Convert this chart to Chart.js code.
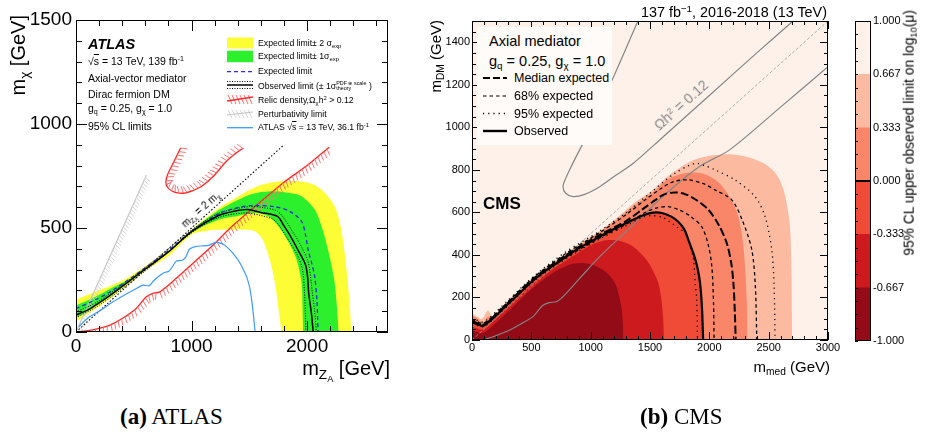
<!DOCTYPE html>
<html>
<head>
<meta charset="utf-8">
<title>Axial-vector mediator limits</title>
<script src="https://cdn.jsdelivr.net/npm/chart.js@4.4.1/dist/chart.umd.min.js"></script>
<style>
  html, body { margin: 0; padding: 0; background: #fff; }
  #page { position: relative; width: 928px; height: 437px; overflow: hidden; font-family: "Liberation Sans", Arial, Helvetica, sans-serif; }
  canvas { position: absolute; }
  .t { position: absolute; white-space: nowrap; line-height: 1; color: #000; }
  sub { font-size: 68%; vertical-align: -0.3em; line-height: 0; }
  sup { font-size: 68%; vertical-align: 0.55em; line-height: 0; }
  .rot { transform-origin: right top; transform: rotate(-90deg); }
  .stack { display: inline-block; font-size: 62%; line-height: 1.05; vertical-align: middle; }
  .cap { font-family: "Liberation Serif", "Times New Roman", serif; font-size: 23px; top: 405px; }
  .sq { text-decoration: overline; }
</style>
</head>
<body>
<div id="page">
  <canvas id="atlas" width="400" height="380" style="left:0;top:0"></canvas>
  <canvas id="cms" width="430" height="380" style="left:420px;top:0"></canvas>
  <canvas id="cbar" width="83" height="380" style="left:845px;top:0"></canvas>

  <!-- ATLAS panel text -->
  <div class="t rot" style="right:920px;top:15px;font-size:20px">m<sub>χ</sub> [GeV]</div>
  <div class="t" style="right:538px;top:358px;font-size:20px">m<sub>Z<sub>A</sub></sub> [GeV]</div>
  <div class="t" style="left:88px;top:37px;font-size:14.5px;font-weight:bold;font-style:italic">ATLAS</div>
  <div class="t" style="left:88px;top:56px;font-size:10.5px">√<span class="sq">s</span> = 13 TeV, 139 fb<sup>-1</sup></div>
  <div class="t" style="left:88px;top:73px;font-size:10.5px">Axial-vector mediator</div>
  <div class="t" style="left:88px;top:89px;font-size:10.5px">Dirac fermion DM</div>
  <div class="t" style="left:88px;top:103px;font-size:10.5px">g<sub>q</sub> = 0.25, g<sub>χ</sub> = 1.0</div>
  <div class="t" style="left:88px;top:121px;font-size:10.5px">95% CL limits</div>
  <div class="t" style="left:201px;top:210px;font-size:10px;transform:translate(-50%,-50%) rotate(-42deg)">m<sub>Z<sub>A</sub></sub> = 2 m<sub>χ</sub></div>

  <svg style="position:absolute;left:225px;top:35px" width="32" height="100">
    <rect x="2" y="2.5" width="26" height="11" fill="#fdfd35"/>
    <rect x="2" y="15.7" width="26" height="11.5" fill="#2cf02c"/>
    <line x1="2" y1="36.7" x2="28" y2="36.7" stroke="#2a2ae0" stroke-width="1.3" stroke-dasharray="4 3"/>
    <line x1="2" y1="46.5" x2="28" y2="46.5" stroke="#000" stroke-width="1" stroke-dasharray="1 1.5"/>
    <line x1="2" y1="50" x2="28" y2="50" stroke="#000" stroke-width="1.5"/>
    <line x1="2" y1="53.5" x2="28" y2="53.5" stroke="#000" stroke-width="1" stroke-dasharray="1 1.5"/>
    <g stroke="#ff7070" stroke-width="1">
      <line x1="3" y1="60" x2="7" y2="69"/><line x1="7" y1="60" x2="11" y2="69"/><line x1="11" y1="60" x2="15" y2="69"/>
      <line x1="15" y1="60" x2="19" y2="69"/><line x1="19" y1="60" x2="23" y2="69"/><line x1="23" y1="60" x2="27" y2="69"/>
    </g>
    <line x1="2" y1="66" x2="28" y2="62" stroke="#ff2a2a" stroke-width="1.3"/>
    <g stroke="#d6d6d6" stroke-width="1">
      <line x1="3" y1="75" x2="7" y2="83"/><line x1="7" y1="75" x2="11" y2="83"/><line x1="11" y1="75" x2="15" y2="83"/>
      <line x1="15" y1="75" x2="19" y2="83"/><line x1="19" y1="75" x2="23" y2="83"/><line x1="23" y1="75" x2="27" y2="83"/>
    </g>
    <line x1="2" y1="80" x2="28" y2="77" stroke="#c4c4c4" stroke-width="1.2"/>
    <line x1="2" y1="92.7" x2="28" y2="92.7" stroke="#3d9bff" stroke-width="1.3"/>
  </svg>
  <div class="t" style="left:258px;top:39px;font-size:8.7px">Expected limit± 2 σ<sub>exp</sub></div>
  <div class="t" style="left:258px;top:51.6px;font-size:8.7px">Expected limit± 1σ<sub>exp</sub></div>
  <div class="t" style="left:258px;top:67.3px;font-size:8.7px">Expected limit</div>
  <div class="t" style="left:258px;top:80.6px;font-size:8.7px">Observed limit (± 1σ<span class="stack">PDF ⊕ scale<br>theory</span> )</div>
  <div class="t" style="left:258px;top:95.6px;font-size:8.7px">Relic density,Ω<sub>χ</sub>h<sup>2</sup> &gt; 0.12</div>
  <div class="t" style="left:258px;top:109.6px;font-size:8.7px">Perturbativity limit</div>
  <div class="t" style="left:258px;top:123.3px;font-size:8.7px">ATLAS √<span class="sq">s</span> = 13 TeV, 36.1 fb<sup>-1</sup></div>

  <!-- CMS panel text -->
  <div class="t rot" style="right:500px;top:20px;font-size:15px">m<sub>DM</sub> (GeV)</div>
  <div class="t" style="right:98px;top:359px;font-size:15px">m<sub>med</sub> (GeV)</div>
  <div class="t" style="right:101px;top:5px;font-size:14.4px">137 fb<sup>−1</sup>, 2016-2018 (13 TeV)</div>
  <div style="position:absolute;left:477px;top:27px;width:135px;height:118px;background:#fffbf9"></div>
  <div class="t" style="left:489px;top:34px;font-size:14.5px">Axial mediator</div>
  <div class="t" style="left:489px;top:54px;font-size:14.5px">g<sub>q</sub> = 0.25, g<sub>χ</sub> = 1.0</div>
  <svg style="position:absolute;left:480px;top:70px" width="32" height="70">
    <line x1="3" y1="8" x2="27" y2="8" stroke="#000" stroke-width="2" stroke-dasharray="7 3"/>
    <line x1="3" y1="26" x2="27" y2="26" stroke="#000" stroke-width="1.2" stroke-dasharray="3.5 3"/>
    <line x1="3" y1="43.5" x2="27" y2="43.5" stroke="#000" stroke-width="1.3" stroke-dasharray="1.2 4"/>
    <line x1="3" y1="61" x2="27" y2="61" stroke="#000" stroke-width="2.4"/>
  </svg>
  <div class="t" style="left:514px;top:72px;font-size:12.5px">Median expected</div>
  <div class="t" style="left:514px;top:90px;font-size:12.5px">68% expected</div>
  <div class="t" style="left:514px;top:107.5px;font-size:12.5px">95% expected</div>
  <div class="t" style="left:514px;top:125px;font-size:12.5px">Observed</div>
  <div class="t" style="left:483px;top:195px;font-size:17px;font-weight:bold">CMS</div>
  <div class="t" style="left:681px;top:105px;font-size:14px;color:#888;transform:translate(-50%,-50%) rotate(-41.8deg)">Ωh<sup>2</sup> = 0.12</div>
  <div class="t rot" style="right:25px;top:10px;font-size:13.8px">95% CL upper observed limit on log<sub>10</sub>(μ)</div>

  <div class="t cap" style="left:120px"><b>(a)</b> ATLAS</div>
  <div class="t cap" style="left:640px"><b>(b)</b> CMS</div>
</div>

<script>
Chart.defaults.font.family = "'Liberation Sans', Arial, sans-serif";

// ---------- ATLAS (m_ZA, m_chi) in GeV ----------
const atlasXTicks = [0, 1000, 2000];
const atlasYTicks = [0, 500, 1000, 1500];

const yellowOuter = [[0,155],[150,190],[316,226],[450,262],[603,318],[800,395],[1005,495],[1234,595],[1400,650],[1492,680],[1620,710],[1751,724],[1952,724],[2050,710],[2124,684],[2190,645],[2239,603],[2275,545],[2296,492],[2325,380],[2353,234],[2370,120],[2382,0]];
const greenOuter = [[0,128],[150,165],[316,214],[450,250],[603,310],[800,390],[1005,490],[1234,585],[1400,635],[1492,658],[1620,674],[1722,677],[1850,668],[1952,653],[2066,589],[2130,500],[2181,395],[2215,310],[2239,234],[2258,120],[2273,0]];
const greenInner = [[0,68],[150,118],[316,180],[450,238],[603,304],[800,384],[1005,480],[1234,540],[1400,558],[1550,572],[1665,556],[1751,508],[1837,435],[1909,347],[1952,234],[1960,120],[1966,0]];
const yellowInner = [[0,50],[150,105],[316,169],[450,228],[603,296],[800,365],[1005,470],[1150,488],[1205,492],[1492,492],[1550,484],[1610,450],[1650,395],[1690,320],[1722,234],[1750,120],[1779,0]];
const expectedLimit = [[0,112],[150,150],[316,200],[603,310],[800,392],[1005,487],[1234,568],[1400,598],[1521,608],[1722,602],[1850,580],[1952,532],[1985,470],[2009,395],[2040,330],[2066,266],[2085,150],[2095,0]];
const observedLimit = [[0,82],[29,89],[100,105],[200,140],[316,185],[450,240],[603,304],[800,385],[1005,485],[1234,560],[1380,582],[1486,589],[1600,575],[1743,556],[1800,510],[1857,460],[1920,395],[1986,323],[2005,260],[2014,185],[2035,100],[2053,0]];
const observedLow = [[0,70],[200,128],[603,295],[1005,478],[1234,550],[1450,572],[1600,560],[1722,535],[1840,440],[1920,365],[1960,300],[1978,185],[1990,0]];
const observedHigh = [[0,95],[200,150],[603,312],[1005,492],[1234,570],[1500,603],[1620,598],[1750,578],[1880,478],[1960,400],[2010,335],[2045,190],[2065,100],[2080,0]];
const halfMassLine = [[0,0],[1790,895]];
const relicLower = [[0,0],[115,8],[200,18],[289,32],[400,65],[519,112],[606,168],[660,185],[722,192],[800,225],[895,272],[1039,344],[1183,416],[1328,496],[1500,580],[1800,720],[2000,800],[2190,888]];
const relicUpper = [[905,885],[870,845],[830,800],[795,760],[778,725],[790,697],[830,678],[880,669],[940,668],[1010,680],[1091,702],[1200,755],[1292,815],[1380,858],[1449,885]];
const perturbLimit = [[0,0],[610,755]];
const atlas2017 = [[25,25],[60,45],[115,72],[200,100],[317,144],[420,178],[519,208],[580,225],[631,222],[670,245],[703,262],[760,285],[804,292],[835,315],[866,340],[918,345],[950,360],[981,398],[1039,412],[1100,414],[1154,418],[1215,432],[1280,420],[1340,390],[1400,348],[1435,315],[1480,260],[1507,202],[1530,110],[1550,0]];

// ---------- CMS (m_med, m_DM) in GeV ----------
const cmsXTicks = [0, 500, 1000, 1500, 2000, 2500, 3000];
const cmsYTicks = [0, 200, 400, 600, 800, 1000, 1200, 1400];

const zoneUpper = [[0,130],[25,115],[50,108],[80,98],[110,120],[135,140],[160,118],[190,108],[250,150],[350,205],[514,292],[700,372],[900,448],[1076,512],[1200,565],[1357,640],[1525,706],[1638,765],[1750,810],[1850,842],[1950,860],[2050,870],[2199,872],[2350,856],[2480,824],[2570,775],[2625,706],[2665,600],[2683,502],[2692,300],[2698,0]];
const zoneMid = [[0,115],[50,100],[93,80],[135,110],[180,105],[250,145],[514,287],[700,366],[900,442],[1076,505],[1200,556],[1357,628],[1525,695],[1650,755],[1800,785],[1950,782],[2080,740],[2180,665],[2245,580],[2283,460],[2301,345],[2316,180],[2322,0]];
const cmsObserved = [[0,85],[30,78],[60,72],[93,66],[130,80],[200,115],[300,168],[400,220],[514,280],[600,318],[700,357],[800,395],[900,432],[1000,462],[1076,486],[1200,523],[1300,550],[1357,565],[1450,588],[1525,599],[1600,597],[1680,580],[1740,555],[1790,520],[1824,470],[1870,400],[1900,340],[1922,267],[1938,150],[1948,0]];
const zoneLow = [[0,62],[93,50],[200,98],[300,150],[514,262],[700,340],[900,412],[1000,445],[1075,462],[1150,470],[1250,466],[1357,440],[1469,378],[1530,320],[1571,267],[1598,180],[1612,90],[1617,0]];
const zoneDeep = [[0,45],[93,33],[200,80],[300,132],[514,245],[700,322],[780,345],[850,358],[922,362],[1000,356],[1080,337],[1150,308],[1206,267],[1238,210],[1262,141],[1272,70],[1276,0]];
const medianExpected = [[0,90],[93,72],[200,120],[514,286],[800,402],[1076,494],[1300,560],[1450,620],[1550,660],[1620,685],[1711,694],[1800,685],[1900,655],[1993,612],[2080,540],[2147,455],[2185,360],[2203,267],[2215,130],[2222,0]];
const band68Low = [[0,82],[93,68],[200,112],[514,278],[800,390],[1076,480],[1300,545],[1450,597],[1550,620],[1656,627],[1760,608],[1850,578],[1936,533],[1990,450],[2021,345],[2035,180],[2040,0]];
const band68High = [[0,98],[93,78],[200,125],[514,292],[800,410],[1076,505],[1300,590],[1450,655],[1600,715],[1700,745],[1824,753],[1950,735],[2050,705],[2189,659],[2280,560],[2358,424],[2388,250],[2400,0]];
const band95Low = [[0,78],[93,62],[200,108],[514,272],[800,385],[1076,475],[1300,538],[1450,580],[1513,585],[1600,578],[1656,560],[1730,530],[1796,502],[1840,440],[1867,376],[1880,270],[1894,188],[1900,0]];
const band95High = [[0,105],[93,85],[200,132],[514,296],[800,418],[1076,512],[1300,600],[1500,690],[1700,780],[1878,831],[1960,820],[2049,800],[2218,752],[2386,674],[2470,580],[2526,424],[2546,250],[2554,0]];
const relicLowerCms = [[95,0],[200,20],[318,47],[420,78],[514,110],[560,140],[598,163],[650,176],[711,180],[760,200],[795,220],[900,285],[1076,392],[1357,541],[1638,690],[1918,816],[2171,894],[2600,1095],[3000,1285]];
const relicLoopCms = [[1398,1500],[1250,1310],[1100,1120],[980,970],[907,894],[840,820],[790,760],[767,721],[790,690],[851,674],[950,685],[1076,721],[1200,770],[1357,830],[1600,950],[2000,1150],[2400,1350],[2705,1500]];
const diagonalCms = [[0,0],[3000,1500]];

// colour scale, log10(mu)
const cbarEdges = [-1.000, -0.667, -0.333, 0.000, 0.333, 0.667, 1.000];
const cbarColors = ['#920b17', '#cc1a1f', '#ef4b36', '#f98668', '#fcbba1', '#fef1ea'];

const pts = arr => arr.map(([x, y]) => ({x, y}));

function curve(data, color, width, dash, extra) {
  return Object.assign({
    data: pts(data), borderColor: color, borderWidth: width, borderDash: dash,
    pointRadius: 0, fill: false, tension: 0.3
  }, extra || {});
}

function region(data, color) {
  return {
    data: pts(data), borderWidth: 0, borderColor: 'rgba(0,0,0,0)',
    backgroundColor: color, pointRadius: 0, fill: 'origin', tension: 0.3
  };
}

// first entry sits at the bottom of the stack
function layered(list) {
  list.forEach((ds, i) => { ds.order = list.length - i; });
  return list;
}

// frame with inward major/minor ticks on all four sides
const framePlugin = {
  id: 'frame',
  beforeDatasetsDraw(chart, args, o) {
    if (!o.background) return;
    const {ctx, chartArea: a} = chart;
    ctx.save();
    ctx.fillStyle = o.background;
    ctx.fillRect(a.left, a.top, a.width, a.height);
    ctx.restore();
  },
  afterDatasetsDraw(chart, args, o) {
    const {ctx, chartArea: a} = chart;
    const {x, y} = chart.scales;
    ctx.save();
    ctx.strokeStyle = '#000';
    ctx.lineWidth = 1;
    ctx.beginPath();
    const nx = Math.round((x.max - x.min) / o.xMinor);
    for (let i = 0; i <= nx; i++) {
      const v = x.min + i * o.xMinor;
      const px = Math.round(x.getPixelForValue(v)) + 0.5;
      const len = (v % o.xMajor === 0) ? o.major : o.minor;
      ctx.moveTo(px, a.bottom); ctx.lineTo(px, a.bottom - len);
      ctx.moveTo(px, a.top); ctx.lineTo(px, a.top + len);
    }
    const ny = Math.round((y.max - y.min) / o.yMinor);
    for (let i = 0; i <= ny; i++) {
      const v = y.min + i * o.yMinor;
      const py = Math.round(y.getPixelForValue(v)) + 0.5;
      const len = (v % o.yMajor === 0) ? o.major : o.minor;
      ctx.moveTo(a.left, py); ctx.lineTo(a.left + len, py);
      ctx.moveTo(a.right, py); ctx.lineTo(a.right - len, py);
    }
    ctx.stroke();
    ctx.strokeRect(a.left + 0.5, a.top + 0.5, a.width - 1, a.height - 1);
    ctx.restore();
  }
};

// short strokes along one side of a curve (excluded-side hatching)
const hatchPlugin = {
  id: 'hatch',
  afterDatasetDraw(chart, args) {
    const ds = chart.data.datasets[args.index];
    if (!ds.hatch) return;
    const h = ds.hatch;
    const p = args.meta.data.map(e => [e.x, e.y]);
    const {ctx, chartArea: a} = chart;
    ctx.save();
    ctx.beginPath();
    ctx.rect(a.left, a.top, a.width, a.height);
    ctx.clip();
    ctx.strokeStyle = h.color;
    ctx.lineWidth = 1;
    ctx.beginPath();
    let carry = 0;
    for (let i = 1; i < p.length; i++) {
      const [x0, y0] = p[i - 1], [x1, y1] = p[i];
      const seg = Math.hypot(x1 - x0, y1 - y0);
      if (!seg) continue;
      const tx = (x1 - x0) / seg, ty = (y1 - y0) / seg;
      const nx = -ty * h.side, ny = tx * h.side;
      const dx = (nx * Math.cos(h.tilt) - tx * Math.sin(h.tilt)) * h.len;
      const dy = (ny * Math.cos(h.tilt) - ty * Math.sin(h.tilt)) * h.len;
      let s = carry;
      for (; s < seg; s += h.gap) {
        const px = x0 + tx * s, py = y0 + ty * s;
        ctx.moveTo(px, py);
        ctx.lineTo(px + dx, py + dy);
      }
      carry = s - seg;
    }
    ctx.stroke();
    ctx.restore();
  }
};

function axis(min, max, ticks, size, padding, fit) {
  return {
    type: 'linear', min, max,
    afterBuildTicks: s => { s.ticks = ticks.map(v => ({value: v})); },
    afterFit: fit,
    grid: {display: false, drawTicks: false},
    border: {display: false},
    ticks: {font: {size}, color: '#000', padding, autoSkip: false, maxRotation: 0, callback: v => String(v)}
  };
}

const redHatch = {len: 7, gap: 4, tilt: 0.3, color: '#ff7474'};

const atlasSets = layered([
  region(yellowOuter, '#fdfd35'),
  region(greenOuter, '#2cf02c'),
  region(greenInner, '#fdfd35'),
  region(yellowInner, '#ffffff'),
  curve(perturbLimit, '#c6c6c6', 1.2, [], {tension: 0, hatch: {side: 1, len: 6, gap: 3.2, tilt: 0.35, color: '#d4d4d4'}}),
  curve(halfMassLine, '#000', 1.1, [1.5, 2], {tension: 0}),
  curve(relicLower, '#ff2323', 1.3, [], {tension: 0.2, hatch: Object.assign({side: 1}, redHatch)}),
  curve(relicUpper, '#ff2323', 1.3, [], {tension: 0.2, hatch: Object.assign({side: -1}, redHatch)}),
  curve(atlas2017, '#3d9bff', 1.2, [], {tension: 0.2}),
  curve(observedLow, '#000', 1, [1, 1.6]),
  curve(observedHigh, '#000', 1, [1, 1.6]),
  curve(expectedLimit, '#2a2ae0', 1.3, [4, 3]),
  curve(observedLimit, '#000', 1.5, [])
]);

new Chart(document.getElementById('atlas'), {
  type: 'line',
  data: {datasets: atlasSets},
  options: {
    responsive: false,
    animation: false,
    layout: {padding: {left: 0, right: 12, top: 20, bottom: 0}},
    scales: {
      x: axis(0, 2700, atlasXTicks, 19, 3, s => { s.height = 48; }),
      y: axis(0, 1500, atlasYTicks, 19, 4, s => { s.width = 76; })
    },
    plugins: {
      legend: {display: false},
      tooltip: {enabled: false},
      frame: {xMinor: 200, xMajor: 1000, yMinor: 100, yMajor: 500, major: 11, minor: 6}
    }
  },
  plugins: [framePlugin, hatchPlugin]
});

const cmsSets = layered([
  region(zoneUpper, cbarColors[4]),
  region(zoneMid, cbarColors[3]),
  region(cmsObserved, cbarColors[2]),
  region(zoneLow, cbarColors[1]),
  region(zoneDeep, cbarColors[0]),
  curve(relicLowerCms, '#858585', 1.2, []),
  curve(relicLoopCms, '#858585', 1.2, []),
  curve(diagonalCms, '#9a9a9a', 0.8, [3, 2], {tension: 0}),
  curve(band95High, '#000', 1.3, [1.2, 4]),
  curve(band95Low, '#000', 1.3, [1.2, 4]),
  curve(band68High, '#000', 1.3, [3.5, 3]),
  curve(band68Low, '#000', 1.3, [3.5, 3]),
  curve(medianExpected, '#000', 2, [8, 3]),
  curve(cmsObserved, '#000', 2.2, [])
]);

new Chart(document.getElementById('cms'), {
  type: 'line',
  data: {datasets: cmsSets},
  options: {
    responsive: false,
    animation: false,
    layout: {padding: {left: 0, right: 22, top: 21, bottom: 0}},
    scales: {
      x: axis(0, 3000, cmsXTicks, 11, 1, s => { s.height = 40; }),
      y: axis(0, 1500, cmsYTicks, 11, 2, s => { s.width = 52; })
    },
    plugins: {
      legend: {display: false},
      tooltip: {enabled: false},
      frame: {xMinor: 100, xMajor: 500, yMinor: 50, yMajor: 200, major: 8, minor: 4, background: cbarColors[5]}
    }
  },
  plugins: [framePlugin]
});

// colour bar: outline, small ticks and the observed (0) level
const cbarFrame = {
  id: 'cbarFrame',
  afterDatasetsDraw(chart) {
    const {ctx, chartArea: a} = chart;
    const y = chart.scales.y;
    ctx.save();
    ctx.strokeStyle = '#000';
    ctx.lineWidth = 1;
    ctx.beginPath();
    for (let i = 0; i <= 24; i++) {
      const py = Math.round(y.getPixelForValue(-1 + i / 12)) + 0.5;
      ctx.moveTo(a.left, py);
      ctx.lineTo(a.left + 3, py);
    }
    ctx.stroke();
    ctx.strokeRect(a.left + 0.5, a.top + 0.5, a.width - 1, a.height - 1);
    ctx.lineWidth = 2;
    ctx.beginPath();
    const z = y.getPixelForValue(0);
    ctx.moveTo(a.left, z);
    ctx.lineTo(a.right, z);
    ctx.stroke();
    ctx.restore();
  }
};

new Chart(document.getElementById('cbar'), {
  type: 'bar',
  data: {
    labels: [''],
    datasets: cbarColors.map((c, i) => ({
      data: [[cbarEdges[i], cbarEdges[i + 1]]],
      backgroundColor: c, borderWidth: 0,
      barPercentage: 1, categoryPercentage: 1, grouped: false
    }))
  },
  options: {
    responsive: false,
    animation: false,
    layout: {padding: {left: 10, right: 0, top: 21, bottom: 39}},
    scales: {
      x: {display: false},
      y: {
        position: 'right', min: -1, max: 1,
        afterBuildTicks: s => { s.ticks = cbarEdges.map(v => ({value: v})); },
        afterFit: s => { s.width = 57; },
        grid: {display: false, drawTicks: false},
        border: {display: false},
        ticks: {font: {size: 11}, color: '#000', padding: 2, callback: v => v.toFixed(3)}
      }
    },
    plugins: {legend: {display: false}, tooltip: {enabled: false}}
  },
  plugins: [cbarFrame]
});
</script>
</body>
</html>
